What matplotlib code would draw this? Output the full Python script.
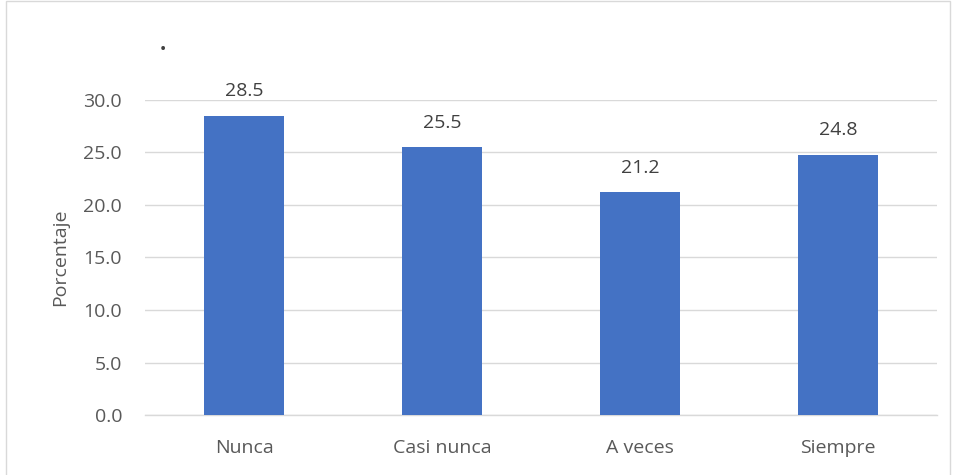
import matplotlib as mpl
mpl.use("Agg")
import matplotlib.pyplot as plt
from matplotlib.patches import Rectangle

# Frequency responses (% of respondents)
categories = ["Nunca", "Casi nunca", "A veces", "Siempre"]
percentages = [28.5, 25.5, 21.2, 24.8]
y_ticks = [0, 5, 10, 15, 20, 25, 30]

C_BAR = "#4472C4"
C_TEXT = "#595959"
C_GRID = "#D9D9D9"
FS = 14

plt.rcParams.update({
    "font.family": ["Open Sans", "DejaVu Sans"],
    "font.size": FS,
})

fig = plt.figure(figsize=(9.56, 4.75), dpi=100)
ax = fig.add_axes([0.1517, 0.1263, 0.8285, 0.6632])

x = range(len(categories))
ax.bar(x, percentages, width=0.4, color=C_BAR, zorder=3)
for xi, v in zip(x, percentages):
    ax.annotate(f"{v:.1f}", (xi, v), textcoords="offset points", xytext=(0, 17.5),
                ha="center", va="center", color="#404040", fontsize=FS)

ax.set_xlim(-0.5, len(categories) - 0.5)
ax.set_ylim(0, 30)
ax.set_yticks(y_ticks)
ax.set_yticklabels([f"{t:.1f}" for t in y_ticks])
ax.set_xticks(list(x))
ax.set_xticklabels(categories)
ax.tick_params(length=0, colors=C_TEXT, labelsize=FS)
ax.tick_params(axis="y", pad=16.5)
ax.tick_params(axis="x", pad=17)
ax.grid(axis="y", color=C_GRID, lw=1.0, zorder=0)
for side in ("top", "right", "left"):
    ax.spines[side].set_visible(False)
ax.spines["bottom"].set_color(C_GRID)
ax.spines["bottom"].set_linewidth(1.0)
ax.set_ylabel("Porcentaje", color=C_TEXT, fontsize=FS, labelpad=10)

# chart title (just a period)
fig.text(163 / 956, 1 - 44 / 475, ".", ha="center", va="center",
         color="#404040", fontsize=16, fontweight="bold")

# outer chart border
fig.patches.append(Rectangle((6 / 956, -0.01), 944 / 956, 1.008,
                             transform=fig.transFigure, fill=False,
                             edgecolor=C_GRID, lw=1.0))

fig.savefig("out.png", dpi=100)
